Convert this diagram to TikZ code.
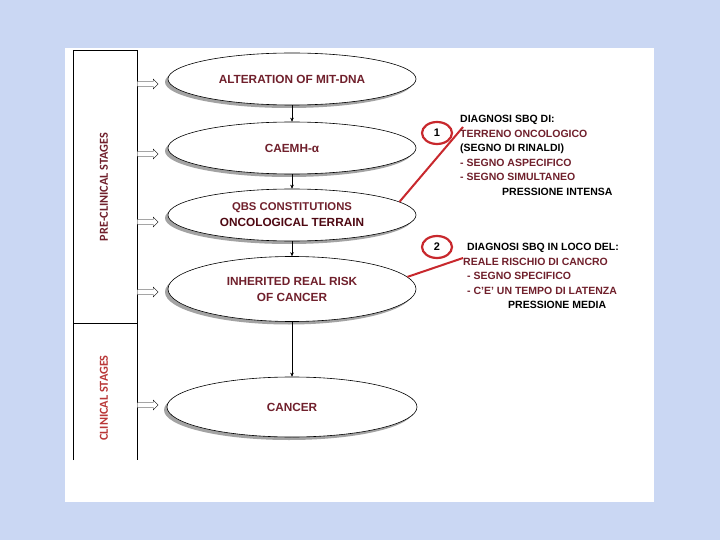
\documentclass[tikz,border=0pt]{standalone}
\usepackage{fontspec}
\setmainfont{Liberation Sans}
\newfontfamily\labelfont{Carlito}
\usetikzlibrary{shapes.geometric,shapes.arrows,shadows,arrows.meta}
\definecolor{bgblue}{RGB}{202,215,243}
\definecolor{wine}{RGB}{112,32,44}
\definecolor{darkwine}{RGB}{78,8,18}
\definecolor{stagered}{RGB}{185,55,55}
\definecolor{ringred}{RGB}{200,40,45}
\tikzset{
  stage/.style={ellipse, draw, line width=0.6pt, fill=white, minimum width=248pt, minimum height=52pt,
    inner sep=0pt, align=center, text=wine, font=\bfseries\fontsize{11.8}{16}\selectfont,
    drop shadow={shadow xshift=-3pt, shadow yshift=-3pt, fill=black!45, opacity=.8}},
  hollow/.style={single arrow, draw, fill=white, minimum height=21pt,
    single arrow head extend=2.5pt, inner sep=2.3pt, anchor=west},
  ring/.style={ellipse, draw=ringred, line width=2.2pt, minimum width=30pt,
    minimum height=22pt, inner sep=0pt, font=\bfseries\fontsize{11}{13}\selectfont},
  note/.style={anchor=north west, align=left, inner sep=0pt,
    font=\bfseries\fontsize{10.5}{14.5}\selectfont},
  side/.style={rotate=90, font=\labelfont\bfseries\fontsize{12.2}{14}\selectfont},
  flow/.style={-{Stealth[length=4pt,width=3.5pt]}},
  redline/.style={ringred, line width=2pt}
}
\begin{document}
\begin{tikzpicture}[x=1pt,y=-1pt]
\fill[bgblue] (0,0) rectangle (720,540);
\fill[white] (65,48) rectangle (654,502);
% stage column
\draw (73,460) -- (73,50) -- (137,50) -- (137,460);
\draw (73,323) -- (137,323);
\node[side, text=wine] (pre) at (104,187) {PRE-CLINICAL STAGES};
\node[side, text=stagered] (cli) at (104,398) {CLINICAL STAGES};
% stages
\node[stage] (e1) at (292,79) {ALTERATION OF MIT-DNA};
\node[stage] (e2) at (292,148) {CAEMH-α};
\node[stage] (e3) at (292,215) {{\fontsize{11.3}{16}\selectfont QBS CONSTITUTIONS}\\\textcolor{darkwine}{ONCOLOGICAL TERRAIN}};
\node[stage, minimum height=65pt] (e4) at (292,289) {INHERITED REAL RISK\\OF CANCER};
\node[stage, minimum width=250pt, minimum height=60pt] (e5) at (292,407) {CANCER};
\draw[flow] (e1) -- (e2);
\draw[flow] (e2) -- (e3);
\draw[flow] (e3) -- (e4);
\draw[flow] (e4) -- (e5);
\foreach \y [count=\i] in {84,154,222,292,405}
  \node[hollow] (a\i) at (137,\y) {};
% diagnosis notes
\node[ring] (n1) at (437,133) {1};
\node[ring] (n2) at (437,247) {2};
\coordinate (p1) at (463,127);
\coordinate (p2) at (463,258);
\draw[redline] (e3.7) -- (p1);
\draw[redline] (e4.6) -- (p2);
\node[note] (d1) at (460,115) {DIAGNOSI SBQ DI:\\
  \textcolor{wine}{TERRENO ONCOLOGICO}\\
  (SEGNO DI RINALDI)\\
  \textcolor{wine}{- SEGNO ASPECIFICO}\\
  \textcolor{wine}{- SEGNO SIMULTANEO}\\
  \hspace*{42pt}PRESSIONE INTENSA};
\node[note] (d2) at (463,243) {\hspace*{4pt}DIAGNOSI SBQ IN LOCO DEL:\\
  \textcolor{wine}{REALE RISCHIO DI CANCRO}\\
  \hspace*{4pt}\textcolor{wine}{- SEGNO SPECIFICO}\\
  \hspace*{4pt}\textcolor{wine}{- C'E' UN TEMPO DI LATENZA}\\
  \hspace*{45pt}PRESSIONE MEDIA};
\end{tikzpicture}
\end{document}
